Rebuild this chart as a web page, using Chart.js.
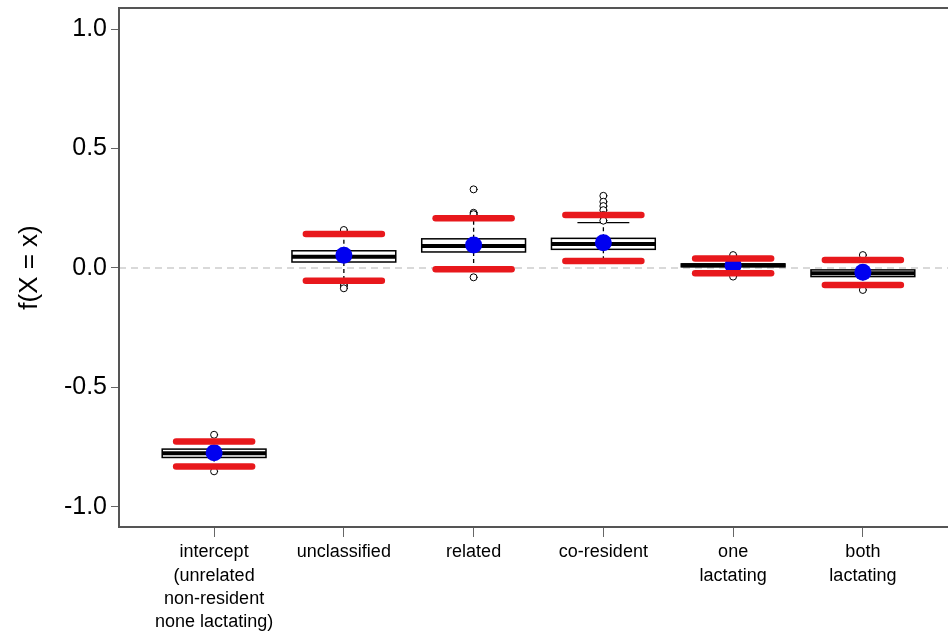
<!DOCTYPE html>
<html>
<head>
<meta charset="utf-8">
<script src="https://cdn.jsdelivr.net/npm/chart.js@4.4.1/dist/chart.umd.min.js"></script>
<style>
  html, body { margin: 0; padding: 0; background: #ffffff; overflow: hidden; }
  #wrap { width: 962px; height: 639px; }
</style>
</head>
<body>
<div id="wrap"><canvas id="c" width="962" height="639"></canvas></div>
<script>
// ---- data ----
const categories = [
  ['intercept', '(unrelated', 'non-resident', 'none lactating)'],
  'unclassified',
  'related',
  'co-resident',
  ['one', 'lactating'],
  ['both', 'lactating']
];
const yTickValues = [-1.0, -0.5, 0.0, 0.5, 1.0];

const boxQ1     = [-0.793, 0.025, 0.067, 0.078, 0.005, -0.036];
const boxMedian = [-0.775, 0.047, 0.092, 0.100, 0.011, -0.022];
const boxQ3     = [-0.758, 0.072, 0.122, 0.124, 0.017, -0.008];
const whiskerLow  = [-0.830, -0.050, -0.010, 0.030, -0.020, -0.070];
const whiskerHigh = [-0.720, 0.140, 0.210, 0.190, 0.040, 0.030];

const meanValues = [-0.773, 0.053, 0.096, 0.106, 0.011, -0.018];
const ciLower    = [-0.831, -0.053, -0.005, 0.029, -0.022, -0.071];
const ciUpper    = [-0.726, 0.142, 0.208, 0.222, 0.040, 0.033];

const outlierCategory = [1, 1, 2, 2, 2, 2, 3, 3, 3, 3, 4, 4, 4, 4, 4, 4, 5, 5, 6, 6];
const outlierValues   = [-0.698, -0.851,
                         0.159, -0.067, -0.075, -0.085,
                         0.329, 0.231, 0.225, -0.039,
                         0.302, 0.277, 0.259, 0.242, 0.222, 0.198,
                         0.054, -0.036,
                         0.054, -0.092];

// ---- styling constants ----
const BOX_HALF = 0.40;   // in category units
const CAP_HALF = 0.20;
const FRAME_COLOR = '#555555';
const FONT = '"Liberation Sans", Arial, sans-serif';

const pos = categories.map((_, i) => i + 1);

const boxPlugin = {
  id: 'boxPlugin',
  beforeDatasetsDraw(chart) {
    const { ctx, chartArea, scales: { x, y } } = chart;
    ctx.save();
    // dashed zero reference line
    const y0 = y.getPixelForValue(0);
    ctx.beginPath();
    ctx.setLineDash([7, 5]);
    ctx.strokeStyle = '#b4b4b4';
    ctx.lineWidth = 1.2;
    ctx.moveTo(chartArea.left, y0);
    ctx.lineTo(chartArea.right, y0);
    ctx.stroke();

    for (let i = 0; i < pos.length; i++) {
      const cx = x.getPixelForValue(pos[i]);
      const xl = x.getPixelForValue(pos[i] - BOX_HALF);
      const xr = x.getPixelForValue(pos[i] + BOX_HALF);
      const cl = x.getPixelForValue(pos[i] - CAP_HALF);
      const cr = x.getPixelForValue(pos[i] + CAP_HALF);
      const pq1 = y.getPixelForValue(boxQ1[i]);
      const pq3 = y.getPixelForValue(boxQ3[i]);
      const pmed = y.getPixelForValue(boxMedian[i]);
      const pwl = y.getPixelForValue(whiskerLow[i]);
      const pwh = y.getPixelForValue(whiskerHigh[i]);

      // whiskers (dashed)
      ctx.beginPath();
      ctx.setLineDash([4, 3]);
      ctx.strokeStyle = '#000';
      ctx.lineWidth = 1.3;
      ctx.moveTo(cx, pq3); ctx.lineTo(cx, pwh);
      ctx.moveTo(cx, pq1); ctx.lineTo(cx, pwl);
      ctx.stroke();
      // caps
      ctx.beginPath();
      ctx.setLineDash([]);
      ctx.moveTo(cl, pwh); ctx.lineTo(cr, pwh);
      ctx.moveTo(cl, pwl); ctx.lineTo(cr, pwl);
      ctx.stroke();
      // box
      ctx.fillStyle = '#fff';
      ctx.fillRect(xl, pq3, xr - xl, pq1 - pq3);
      ctx.lineWidth = 1.5;
      ctx.strokeRect(xl, pq3, xr - xl, pq1 - pq3);
      // median
      ctx.beginPath();
      ctx.lineWidth = 4;
      ctx.moveTo(xl, pmed); ctx.lineTo(xr, pmed);
      ctx.stroke();
    }
    ctx.restore();
    ctx.lineCap = 'round';
  },
  afterDraw(chart) {
    const { ctx, chartArea } = chart;
    ctx.save();
    ctx.strokeStyle = FRAME_COLOR;
    ctx.lineWidth = 2;
    ctx.setLineDash([]);
    ctx.strokeRect(chartArea.left, chartArea.top, chartArea.right - chartArea.left, chartArea.bottom - chartArea.top);
    ctx.restore();
  }
};

const ctx = document.getElementById('c').getContext('2d');
new Chart(ctx, {
  type: 'scatter',
  data: {
    datasets: [
      {
        label: 'upper',
        data: pos.map((p, i) => ({ x: p, y: ciUpper[i] })),
        pointStyle: 'line', radius: 38, hoverRadius: 38,
        borderColor: '#e8181c', borderWidth: 6.5, backgroundColor: '#e8181c'
      },
      {
        label: 'lower',
        data: pos.map((p, i) => ({ x: p, y: ciLower[i] })),
        pointStyle: 'line', radius: 38, hoverRadius: 38,
        borderColor: '#e8181c', borderWidth: 6.5, backgroundColor: '#e8181c'
      },
      {
        label: 'mean',
        data: pos.map((p, i) => ({ x: p, y: meanValues[i] })),
        pointStyle: 'circle', radius: 8.5, hoverRadius: 8.5,
        borderWidth: 0, backgroundColor: '#0000f0', borderColor: '#0000f0'
      },
      {
        label: 'outliers',
        data: outlierValues.map((v, i) => ({ x: outlierCategory[i], y: v })),
        pointStyle: 'circle', radius: 3.5, hoverRadius: 3.5,
        borderWidth: 1, borderColor: '#000', backgroundColor: '#fff'
      }
    ]
  },
  options: {
    responsive: false,
    animation: false,
    devicePixelRatio: 1,
    layout: { autoPadding: false, padding: { top: 8, right: 4, left: 0, bottom: 0 } },
    plugins: { legend: { display: false }, tooltip: { enabled: false } },
    scales: {
      x: {
        type: 'linear',
        min: 0.267, max: 6.733,
        afterBuildTicks: (s) => { s.ticks = pos.map(v => ({ value: v })); },
        afterFit: (s) => { s.height = 112; s.paddingLeft = 0; s.paddingRight = 0; },
        border: { display: false },
        grid: { drawOnChartArea: false, drawTicks: true, tickLength: 10, color: '#666', lineWidth: 1 },
        ticks: {
          autoSkip: false, maxRotation: 0, minRotation: 0, padding: 4,
          color: '#000',
          font: { family: FONT, size: 18, lineHeight: 1.28 },
          callback: (v) => categories[Math.round(v) - 1]
        }
      },
      y: {
        min: -1.084, max: 1.088,
        afterBuildTicks: (s) => { s.ticks = yTickValues.map(v => ({ value: v })); },
        afterFit: (s) => { s.width = 119; s.paddingTop = 0; s.paddingBottom = 0; },
        border: { display: false },
        grid: { drawOnChartArea: false, drawTicks: true, tickLength: 8, color: '#666', lineWidth: 1 },
        ticks: {
          padding: 4, color: '#000',
          font: { family: FONT, size: 25 },
          callback: (v) => v.toFixed(1)
        },
        title: {
          display: true, text: 'f(X = x)', color: '#000',
          font: { family: FONT, size: 26 },
          padding: { top: 14, bottom: 0 }
        }
      }
    }
  },
  plugins: [boxPlugin]
});
</script>
</body>
</html>
